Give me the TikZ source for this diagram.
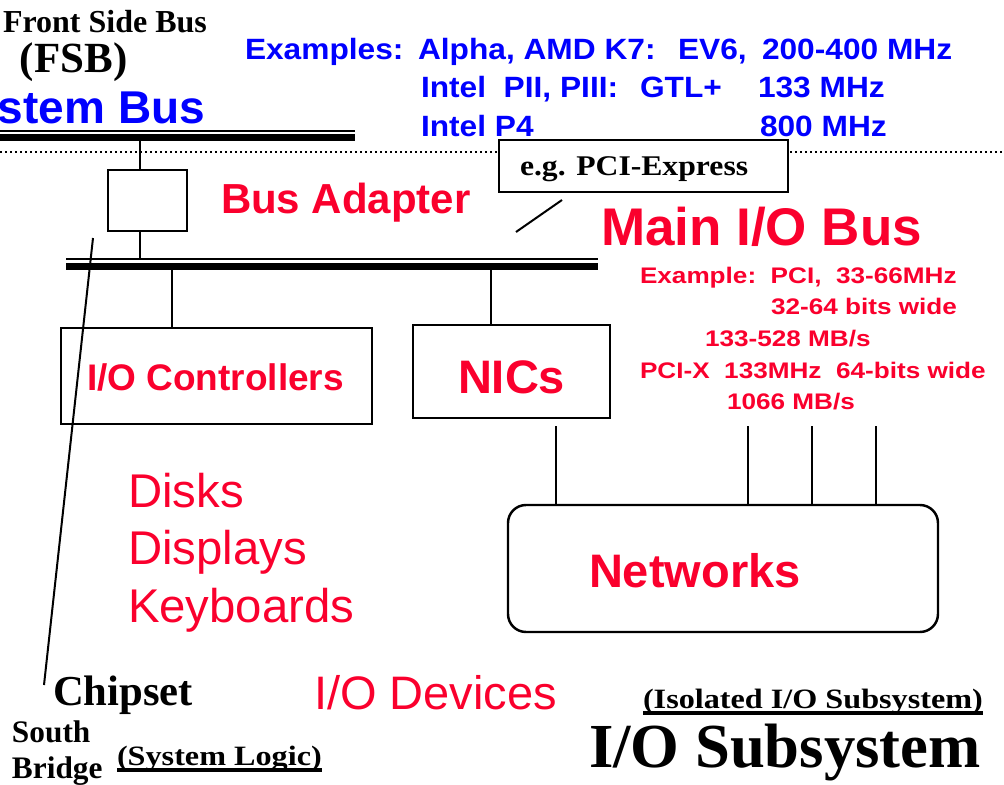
\documentclass[tikz,border=0pt]{standalone}
\usepackage{fontspec}
\setmainfont{Liberation Serif}
\newfontfamily\arial{Liberation Sans}
\newfontfamily\arialw[FakeStretch=1.16]{Liberation Sans}
\newfontfamily\arialx[FakeStretch=1.08]{Liberation Sans}
\newfontfamily\timesw[FakeStretch=1.15]{Liberation Serif}
\newfontfamily\timesx[FakeStretch=1.11]{Liberation Serif}
\usetikzlibrary{fit,calc}
\definecolor{pptred}{RGB}{250,0,45}
\definecolor{pptblue}{RGB}{0,0,255}
\newcommand\fs[1]{\fontsize{#1}{#1}\selectfont}
\tikzset{
  x=0.75pt, y=-0.75pt,
  txt/.style={anchor=base west, inner sep=0pt, outer sep=0pt},
  blu/.style={txt, text=pptblue, font=\arialx\bfseries\fs{22}},
  redb/.style={txt, text=pptred, font=\arial\bfseries\fs{#1}},
  redr/.style={txt, text=pptred, font=\arial\fs{#1}},
  redsmall/.style={txt, text=pptred, font=\arialw\bfseries\fs{16.9}},
  blk/.style={txt, text=black, font=\bfseries\fs{#1}},
  blkw/.style={txt, text=black, font=\timesw\bfseries\fs{#1}},
  boxst/.style={draw, line width=1.85pt, fill=white, inner sep=0pt, outer sep=0pt},
  wire/.style={line width=1.5pt},
  busthin/.style={line width=1.5pt},
  busthick/.style={line width=5.25pt},
  dotline/.style={line width=1.5pt, dash pattern=on 1.5pt off 2.25pt},
  uline/.style={line width=2.3pt},
}
\begin{document}
\begin{tikzpicture}
\useasboundingbox (0,0) rectangle (1004,785);

% ---- dotted separator
\coordinate (dotL) at (0,152);
\coordinate (dotR) at (1004,152);
\draw[dotline] (dotL) -- (dotR);

% ---- system bus (FSB)
\coordinate (sbL1) at (0,131);   \coordinate (sbR1) at (355,131);
\coordinate (sbL2) at (0,137.5); \coordinate (sbR2) at (355,137.5);
\draw[busthin] (sbL1) -- (sbR1);
\draw[busthick] (sbL2) -- (sbR2);

% ---- main I/O bus
\coordinate (mbL1) at (66,259);   \coordinate (mbR1) at (598,259);
\coordinate (mbL2) at (66,266.5); \coordinate (mbR2) at (598,266.5);
\draw[busthin] (mbL1) -- (mbR1);
\draw[busthick] (mbL2) -- (mbR2);

% ---- bus adapter
\node[boxst, fit={(108,170) (187,231)}] (adapter) {};
\coordinate (fsbtap) at (140,141);
\coordinate (iotap) at (140,259);
\draw[wire] (fsbtap) -- (fsbtap |- adapter.north);
\draw[wire] (iotap |- adapter.south) -- (iotap);

% ---- I/O controllers and NICs
\node[boxst, fit={(61,328) (372,424)}] (ioc) {};
\node[boxst, fit={(413,325) (610,418)}] (nics) {};
\coordinate (ioctap) at (172,270);
\coordinate (nictap) at (491,270);
\draw[wire] (ioctap) -- (ioctap |- ioc.north);
\draw[wire] (nictap) -- (nictap |- nics.north);

% ---- networks
\node[boxst, rounded corners=13.5pt, fit={(508,505) (938,632)}] (net) {};
\foreach \xx/\nm in {556/na,748/nb,812/nc,876/nd}{
  \coordinate (\nm) at (\xx,426);
  \draw[wire] (\nm) -- (\nm |- net.north);
}

% ---- PCI-Express callout
\coordinate (pcA) at (516,232);
\coordinate (pcB) at (562,200);
\draw[wire] (pcA) -- (pcB);
\node[boxst, fit={(499,140) (788,192)}] (pcie) {};
\node[txt, font=\timesx\bfseries\fs{21.4}] (pcietxt) at (520,175) {e.g. PCI-Express};

% ---- chipset pointer
\coordinate (chA) at (93,238);
\coordinate (chB) at (44,685);
\draw[wire] (chA) -- (chB);

% ---- black serif labels
\node[blk=24] (fsb1) at (3,32) {Front Side Bus};
\node[blk=32.25] (fsb2) at (20,72) {(FSB)};
\node[blk=32] (chip) at (53,705) {Chipset};
\node[blk=23.5] (south) at (12,742) {South};
\node[blk=23.5] (bridge) at (12,778) {Bridge};
\node[blkw=21] (syslog) at (117,765) {(System Logic)};
\draw[uline] ([yshift=-3.75pt]syslog.base west) -- ([yshift=-3.75pt]syslog.base east);
\node[blkw=21] (isol) at (643,708) {(Isolated I/O Subsystem)};
\draw[uline] ([yshift=-3.75pt]isol.base west) -- ([yshift=-3.75pt]isol.base east);
\node[blk=47] (iosub) at (589,767) {I/O Subsystem};

% ---- blue labels
\node[txt, text=pptblue, font=\arial\bfseries\fs{34.5}, anchor=base east] (sysbus) at (205,123) {System Bus};
\node[blu] (ex1a) at (245,59) {Examples:};
\node[blu] (ex1b) at (418,59) {Alpha, AMD K7:};
\node[blu] (ex1c) at (678,59) {EV6,};
\node[blu] (ex1d) at (762,59) {200-400 MHz};
\node[blu] (ex2a) at (421,97) {Intel\ \ PII, PIII:};
\node[blu] (ex2b) at (640,97) {GTL+};
\node[blu] (ex2c) at (758,97) {133 MHz};
\node[blu] (ex3a) at (421,136) {Intel P4};
\node[blu] (ex3b) at (760,136) {800 MHz};

% ---- red labels
\node[redb=31.5] (busadapt) at (221,213) {Bus Adapter};
\node[redb=39.75] (mainio) at (601,245) {Main I/O Bus};
\node[redsmall] (pci1) at (640,283) {Example:\ \ PCI,\ \ 33-66MHz};
\node[redsmall] (pci2) at (771,314) {32-64 bits wide};
\node[redsmall] (pci3) at (705,346) {133-528 MB/s};
\node[redsmall] (pci4) at (640,378) {PCI-X\ \ 133MHz\ \ 64-bits wide};
\node[redsmall] (pci5) at (727,409) {1066 MB/s};
\node[redb=27.75] (ioctxt) at (87,390) {I/O Controllers};
\node[redb=35.25] (nicstxt) at (458,393) {NICs};
\node[redb=35.25] (nettxt) at (589,587) {Networks};
\node[redr=35.5] (disks) at (128,507) {Disks};
\node[redr=35.5] (displays) at (128,564) {Displays};
\node[redr=35.5] (keyb) at (128,622) {Keyboards};
\node[redr=35.25] (iodev) at (314,709) {I/O Devices};
\end{tikzpicture}
\end{document}
